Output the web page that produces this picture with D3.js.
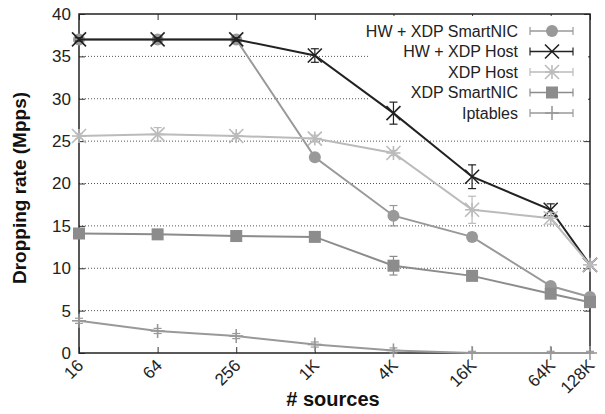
<!DOCTYPE html>
<html><head><meta charset="utf-8">
<script src="https://cdn.jsdelivr.net/npm/d3@7/dist/d3.min.js"></script>
<style>body{margin:0;background:#fff}svg{display:block}text{font-family:"Liberation Sans",Arial,sans-serif}</style>
</head><body><svg id="c" width="605" height="414"></svg>
<script>
const categories = ["16","64","256","1K","4K","16K","64K","128K"];
const sources = [16,64,256,1024,4096,16384,65536,131072];
const yTicks = [0,5,10,15,20,25,30,35,40];
const seriesNames = ["HW + XDP SmartNIC","HW + XDP Host","XDP Host","XDP SmartNIC","Iptables"];
const hwSmartNIC = [37.0,37.0,37.0,23.1,16.2,13.7,7.9,6.6];
const hwSmartNICErr = [0.2,0.2,0.2,0.3,1.2,0.5,0.4,0.3];
const hwHost = [37.0,37.0,37.0,35.1,28.3,20.8,16.9,10.4];
const hwHostErr = [0.2,0.2,0.2,0.8,1.3,1.4,0.7,0.3];
const xdpHost = [25.6,25.8,25.6,25.3,23.6,16.9,15.9,10.4];
const xdpHostErr = [0.3,0.8,0.3,0.4,0.3,1.6,0.7,0.3];
const xdpSmartNIC = [14.1,14.0,13.8,13.7,10.3,9.1,7.0,6.0];
const xdpSmartNICErr = [0.2,0.2,0.2,0.2,1.1,0.3,0.3,0.3];
const iptables = [3.8,2.6,2.0,1.0,0.3,0.0,0.0,0.0];
const iptablesErr = [0.3,0.3,0.3,0.3,0.3,0.2,0.2,0.2];

const svg = d3.select("#c");
const L=79,R=590,T=14,B=353;
const x = d3.scaleLog().base(2).domain([16,131072]).range([L,R]);
const y = d3.scaleLinear().domain([0,40]).range([B,T]);

const series = [
 {name:seriesNames[0],v:hwSmartNIC,e:hwSmartNICErr,color:"#999",sym:"circle",w:2},
 {name:seriesNames[1],v:hwHost,e:hwHostErr,color:"#222",sym:"x",w:2},
 {name:seriesNames[2],v:xdpHost,e:xdpHostErr,color:"#bbb",sym:"star",w:2},
 {name:seriesNames[3],v:xdpSmartNIC,e:xdpSmartNICErr,color:"#8c8c8c",sym:"square",w:2},
 {name:seriesNames[4],v:iptables,e:iptablesErr,color:"#999",sym:"plus",w:2}
];

// grid
svg.append("g").selectAll("line").data(yTicks.filter(d=>d>0&&d<40)).join("line")
 .attr("x1",L).attr("x2",R).attr("y1",d=>y(d)).attr("y2",d=>y(d))
 .attr("stroke","#555").attr("stroke-width",1).attr("stroke-dasharray","1,2");

// axes ticks (inward)
const axL = d3.axisLeft(y).tickValues(yTicks).tickSize(-6).tickPadding(8).tickFormat(d3.format("d"));
const gL = svg.append("g").attr("transform",`translate(${L},0)`).call(axL);
const axR = d3.axisRight(y).tickValues(yTicks).tickSize(-6).tickFormat("");
const gR = svg.append("g").attr("transform",`translate(${R},0)`).call(axR);
const axB = d3.axisBottom(x).tickValues(sources).tickSize(-6).tickFormat((d,i)=>categories[i]);
const gB = svg.append("g").attr("transform",`translate(0,${B})`).call(axB);
const axT = d3.axisTop(x).tickValues(sources).tickSize(-6).tickFormat("");
const gT = svg.append("g").attr("transform",`translate(0,${T})`).call(axT);
[gL,gR,gB,gT].forEach(g=>{g.select(".domain").remove();g.selectAll(".tick line").attr("stroke","#333");});
gL.selectAll("text").attr("font-size",17).attr("fill","#222").attr("font-family","Liberation Sans, Arial, sans-serif");
gB.selectAll("text").attr("font-size",17).attr("fill","#222").attr("font-family","Liberation Sans, Arial, sans-serif")
 .attr("text-anchor","end").attr("dy","0").attr("y",0)
 .attr("transform","translate(5,13.5) rotate(-45)");

// legend background
svg.append("rect").attr("x",368).attr("y",T+2).attr("width",R-368-2).attr("height",110).attr("fill","#fff");

// frame
svg.append("rect").attr("x",L).attr("y",T).attr("width",R-L).attr("height",B-T)
 .attr("fill","none").attr("stroke","#222").attr("stroke-width",1.5);

function marker(g,sym,cx,cy,color){
 if(sym==="circle") g.append("circle").attr("cx",cx).attr("cy",cy).attr("r",6).attr("fill",color);
 else if(sym==="square") g.append("rect").attr("x",cx-6).attr("y",cy-6).attr("width",12).attr("height",12).attr("fill",color);
 else {
  const s=7, p=[];
  if(sym==="x"||sym==="star"){p.push([-s,-s,s,s],[-s,s,s,-s]);}
  if(sym==="plus"||sym==="star"){p.push([-s,0,s,0],[0,-s,0,s]);}
  p.forEach(q=>g.append("line").attr("x1",cx+q[0]).attr("y1",cy+q[1]).attr("x2",cx+q[2]).attr("y2",cy+q[3])
   .attr("stroke",color).attr("stroke-width",1.6));
 }
}

const line = d3.line().x((d,i)=>x(sources[i])).y(d=>y(d));
series.forEach(s=>{
 const g = svg.append("g");
 g.append("path").attr("d",line(s.v)).attr("fill","none").attr("stroke",s.color).attr("stroke-width",s.w);
 s.v.forEach((v,i)=>{
  const cx=x(sources[i]);
  const y1=y(Math.max(0,v-s.e[i])), y2=y(v+s.e[i]);
  g.append("line").attr("x1",cx).attr("x2",cx).attr("y1",y1).attr("y2",y2).attr("stroke",s.color).attr("stroke-width",1.2);
  [y1,y2].forEach(yy=>g.append("line").attr("x1",cx-4).attr("x2",cx+4).attr("y1",yy).attr("y2",yy).attr("stroke",s.color).attr("stroke-width",1.2));
  marker(g,s.sym,cx,y(v),s.color);
 });
});

// legend
series.forEach((s,i)=>{
 const ly = 31 + i*20.5;
 const g = svg.append("g");
 g.append("text").attr("x",518).attr("y",ly).attr("dy","0.35em").attr("text-anchor","end")
  .attr("font-size",16).attr("fill","#222").text(s.name);
 g.append("line").attr("x1",530).attr("x2",573).attr("y1",ly).attr("y2",ly).attr("stroke",s.color).attr("stroke-width",1.5);
 [530,573].forEach(xx=>g.append("line").attr("x1",xx).attr("x2",xx).attr("y1",ly-4).attr("y2",ly+4).attr("stroke",s.color).attr("stroke-width",1.2));
 marker(g,s.sym,552,ly,s.color);
});

// axis titles
svg.append("text").attr("transform","translate(26,188) rotate(-90)").attr("text-anchor","middle")
 .attr("font-size",19).attr("font-weight","bold").attr("fill","#111").text("Dropping rate (Mpps)");
svg.append("text").attr("x",333).attr("y",406).attr("text-anchor","middle")
 .attr("font-size",20).attr("font-weight","bold").attr("fill","#111").text("# sources");
</script></body></html>
